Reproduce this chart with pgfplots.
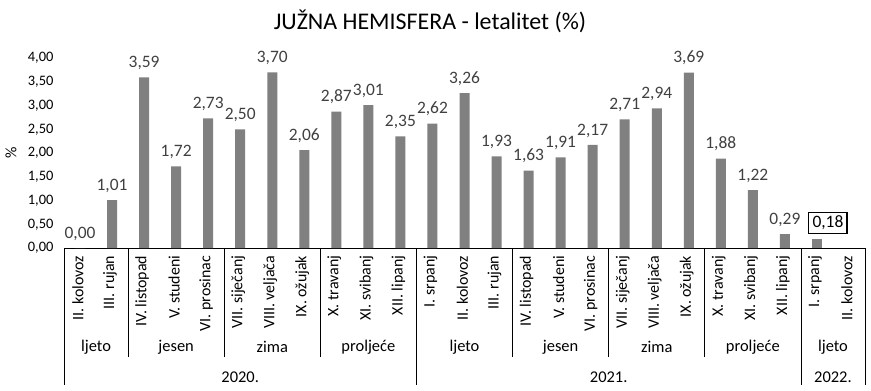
\documentclass[border=0pt]{standalone}
\usepackage{pgfplots}
\pgfplotsset{compat=1.18}
\usepackage{fontspec}
\setmainfont{Carlito}
\definecolor{bargray}{HTML}{808080}
\definecolor{lblgray}{HTML}{404040}
\begin{document}
\begin{tikzpicture}[x=1bp,y=1bp]
\useasboundingbox (0,0) rectangle (871,390);
\begin{axis}[
  at={(64bp,142bp)}, anchor=south west,
  scale only axis, width=801bp, height=190bp,
  xmin=-0.5, xmax=24.5, ymin=0, ymax=4,
  ybar, bar width=10bp,
  axis lines*=left,
  y axis line style={draw=none},
  x axis line style={black, line width=0.8bp},
  tick style={draw=none},
  clip=false,
  /pgf/number format/assume math mode=true,
  /pgf/number format/fixed,
  /pgf/number format/fixed zerofill,
  /pgf/number format/precision=2,
  /pgf/number format/use comma,
  ytick={0,0.5,...,4},
  yticklabel style={font=\fontsize{14.5}{17}\selectfont, color=black, xshift=-7bp},
  xtick={0,...,24},
  xticklabels={II. kolovoz, III. rujan, IV. listopad, V. studeni, VI. prosinac, VII. siječanj, VIII. veljača, IX. ožujak, X. travanj, XI. svibanj, XII. lipanj, I. srpanj, II. kolovoz, III. rujan, IV. listopad, V. studeni, VI. prosinac, VII. siječanj, VIII. veljača, IX. ožujak, X. travanj, XI. svibanj, XII. lipanj, I. srpanj, II. kolovoz},
  xticklabel style={rotate=90, anchor=east, font=\fontsize{16}{19}\selectfont, color=black, yshift=2bp},
  nodes near coords,
  every node near coord/.append style={font=\fontsize{17.5}{21}\selectfont, color=lblgray, yshift=4bp},
]
\addplot[fill=bargray, draw=none, bar shift=0pt] coordinates {
(0,0.00) (1,1.01) (2,3.59) (3,1.72) (4,2.73) (5,2.50) (6,3.70) (7,2.06) (8,2.87) (9,3.01) (10,2.35)
(11,2.62) (12,3.26) (13,1.93) (14,1.63) (15,1.91) (16,2.17) (17,2.71) (18,2.94) (19,3.69) (20,1.88) (21,1.22) (22,0.29)
};
\addplot[fill=bargray, draw=none, bar shift=0pt,
  nodes near coords style={draw=black, line width=1.8bp, inner xsep=4bp, inner ysep=3.5bp, yshift=1bp, xshift=11bp, text=black}] coordinates {(23,0.18)};
\end{axis}
\node[font=\fontsize{16}{19}\selectfont, rotate=90] at (11,237) {\%};
\node[font=\fontsize{24}{28}\selectfont, color=black] at (430,369) {JUŽNA HEMISFERA - letalitet (\%)};
% separators
\foreach \k in {2,5,8,14,17,20} {
  \draw[black, line width=0.8bp] ({64+32.04*\k},142) -- ({64+32.04*\k},33);
}
\foreach \k in {0,11,23,25} {
  \draw[black, line width=0.8bp] ({64+32.04*\k},142) -- ({64+32.04*\k},5);
}
\foreach \c/\t in {1/ljeto, 3.5/jesen, 6.5/zima, 9.5/proljeće, 12.5/ljeto, 15.5/jesen, 18.5/zima, 21.5/proljeće, 24/ljeto} {
  \node[font=\fontsize{16.5}{19}\selectfont] at ({64+32.04*\c},43) {\t};
}
\foreach \c/\t in {5.5/2020., 17/2021., 24/2022.} {
  \node[font=\fontsize{16.5}{19}\selectfont] at ({64+32.04*\c},13) {\t};
}
\end{tikzpicture}
\end{document}
